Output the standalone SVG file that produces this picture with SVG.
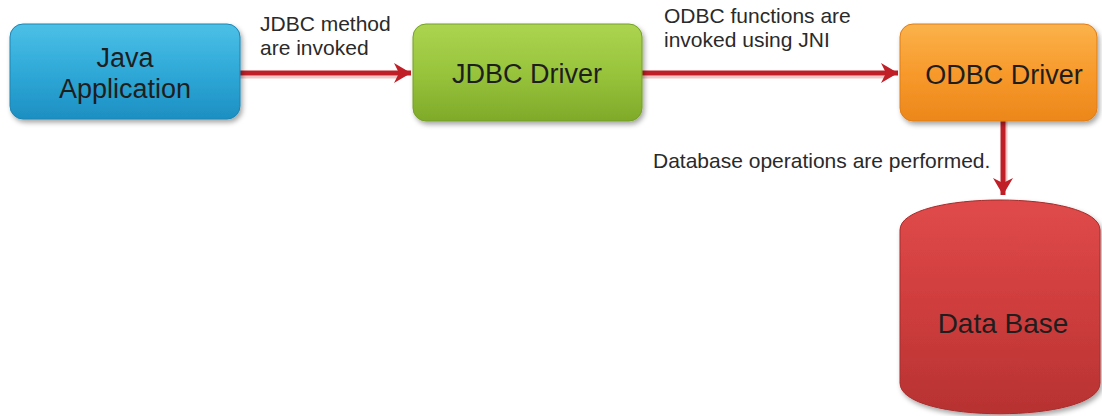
<svg xmlns="http://www.w3.org/2000/svg" width="1102" height="416" viewBox="0 0 1102 416">
  <defs>
    <linearGradient id="gBlue" x1="0" y1="0" x2="0" y2="1">
      <stop offset="0" stop-color="#4cc0e6"/>
      <stop offset="0.5" stop-color="#2fa9d8"/>
      <stop offset="1" stop-color="#1d8fc2"/>
    </linearGradient>
    <linearGradient id="gGreen" x1="0" y1="0" x2="0" y2="1">
      <stop offset="0" stop-color="#acd450"/>
      <stop offset="0.5" stop-color="#98c43c"/>
      <stop offset="1" stop-color="#7faa2a"/>
    </linearGradient>
    <linearGradient id="gOrange" x1="0" y1="0" x2="0" y2="1">
      <stop offset="0" stop-color="#fbb24a"/>
      <stop offset="0.5" stop-color="#f79a2c"/>
      <stop offset="1" stop-color="#ec871b"/>
    </linearGradient>
    <linearGradient id="gRed" x1="0" y1="0" x2="0" y2="1">
      <stop offset="0" stop-color="#e04a4a"/>
      <stop offset="0.5" stop-color="#cf3d3d"/>
      <stop offset="1" stop-color="#b73232"/>
    </linearGradient>
    <filter id="shadow" x="-10%" y="-10%" width="125%" height="130%">
      <feDropShadow dx="2" dy="3" stdDeviation="2.5" flood-color="#000" flood-opacity="0.35"/>
    </filter>
    <marker id="head" viewBox="-16 -11 20 22" refX="2" refY="0" markerWidth="20" markerHeight="22" markerUnits="userSpaceOnUse" orient="auto">
      <path d="M-15,-10 L2,0 L-15,10 L-10,0 Z" fill="#c01f27"/>
    </marker>
  </defs>
  <style>
    .box { stroke-width: 1; filter: url(#shadow); }
    .node-text { font-family: "Liberation Sans", Arial, sans-serif; font-size: 27px; fill: #1e1e1e; text-anchor: middle; }
    .label { font-family: "Liberation Sans", Arial, sans-serif; font-size: 21px; fill: #2a2a2a; }
    .conn { stroke: #c01f27; stroke-width: 5; fill: none; marker-end: url(#head); }
    .conn-glow { stroke: #e8a0a0; stroke-width: 3; fill: none; opacity: 0.6; }
  </style>

  <rect width="1102" height="416" fill="#ffffff"/>

  <!-- connectors -->
  <g id="connectors">
    <line class="conn-glow" x1="240" y1="77" x2="400" y2="77"/>
    <line class="conn-glow" x1="642" y1="77" x2="887" y2="77"/>
    <line class="conn-glow" x1="1006" y1="121" x2="1006" y2="182"/>
    <line class="conn" x1="240" y1="73" x2="411" y2="73"/>
    <line class="conn" x1="642" y1="73" x2="898" y2="73"/>
    <line class="conn" x1="1003" y1="121" x2="1003" y2="195"/>
    <text class="label" x="260" y="31">JDBC method</text>
    <text class="label" x="260" y="55">are invoked</text>
    <text class="label" x="664" y="23">ODBC functions are</text>
    <text class="label" x="664" y="47">invoked using JNI</text>
    <text class="label" x="653" y="168">Database operations are performed.</text>
  </g>

  <!-- Java application -->
  <g id="java-app">
    <rect class="box" x="10" y="24" width="230" height="95" rx="13" fill="url(#gBlue)" stroke="#1a85b3"/>
    <text class="node-text" x="125" y="67" fill="#14324a">Java</text>
    <text class="node-text" x="125" y="98" fill="#14324a">Application</text>
  </g>

  <!-- JDBC driver -->
  <g id="jdbc-driver">
    <rect class="box" x="413" y="24" width="229" height="97" rx="13" fill="url(#gGreen)" stroke="#75a026"/>
    <text class="node-text" x="527" y="83">JDBC Driver</text>
  </g>

  <!-- ODBC driver -->
  <g id="odbc-driver">
    <rect class="box" x="900" y="24" width="197" height="97" rx="13" fill="url(#gOrange)" stroke="#e07d16"/>
    <text class="node-text" x="1004" y="84" fill="#2a1208">ODBC Driver</text>
  </g>

  <!-- database -->
  <g id="database">
    <path class="box" d="M900,230 C900,190 1100,190 1100,230 L1100,383 C1100,424 900,424 900,383 Z" fill="url(#gRed)" stroke="#a82b2b"/>
    <text class="node-text" x="1003" y="333" style="font-size:28px" fill="#2a0a0a">Data Base</text>
  </g>
</svg>
